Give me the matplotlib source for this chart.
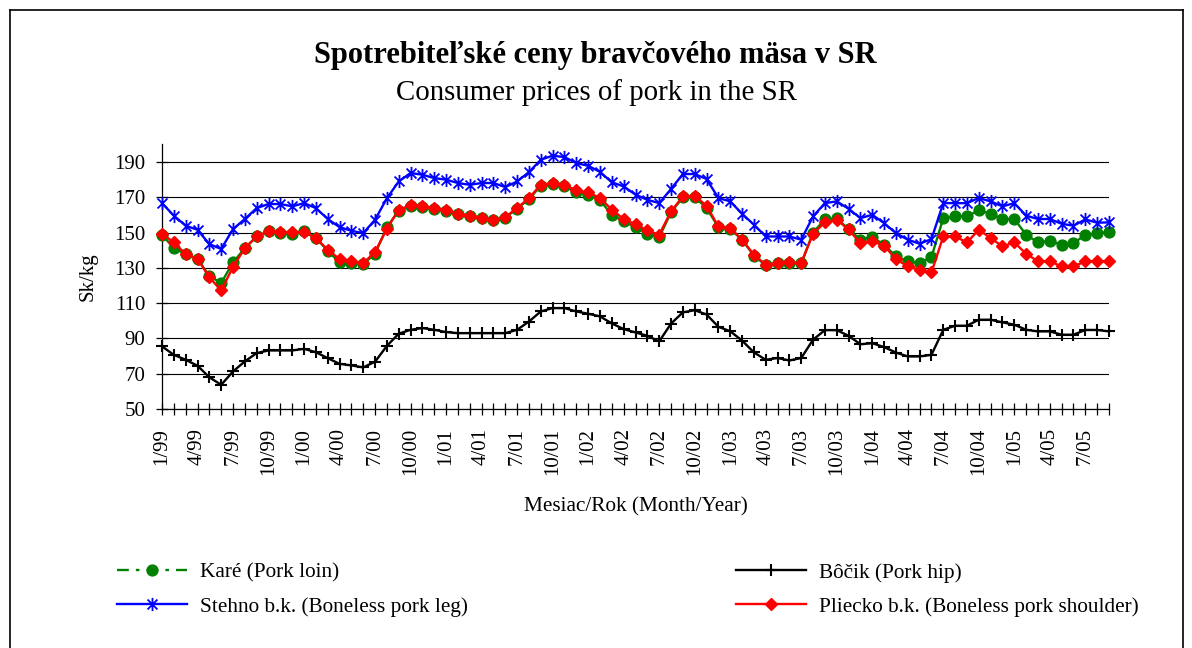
import matplotlib
matplotlib.use("Agg")
import matplotlib.pyplot as plt
from matplotlib.lines import Line2D
from matplotlib.path import Path

# ---------------- data ----------------
years = ["99", "00", "01", "02", "03", "04", "05"]
categories = [f"{m}/{y}" for y in years for m in range(1, 13)][:81]   # 1/99 .. 9/05

kare = [148.8, 141.2, 137.8, 135.0, 125.5, 121.4, 133.1, 141.2, 147.8, 150.7,
        149.7, 149.2, 150.7, 146.9, 139.7, 133.1, 132.7, 132.2, 138.0, 153.0,
        162.5, 165.0, 164.5, 163.5, 162.5, 160.5, 159.2, 158.0, 157.0, 158.5,
        163.5, 169.0, 176.5, 177.5, 176.5, 172.8, 171.5, 168.3, 160.1, 156.4,
        153.1, 149.4, 147.3, 161.5, 170.0, 170.0, 164.0, 153.0, 152.0, 146.0,
        137.0, 131.5, 132.5, 132.5, 132.5, 150.0, 157.5, 158.0, 152.0, 146.0,
        147.5, 143.1, 136.5, 133.7, 132.7, 136.1, 158.2, 159.2, 159.2, 162.6,
        160.7, 157.7, 157.7, 148.8, 144.4, 145.4, 143.1, 144.1, 148.6, 149.5,
        150.5]

bocik = [85.5, 80.7, 77.9, 74.5, 68.0, 63.7, 71.3, 77.0, 81.7, 83.2,
         83.2, 83.2, 84.1, 82.2, 78.8, 75.6, 74.7, 73.6, 76.8, 85.8,
         92.7, 94.9, 95.9, 94.9, 93.6, 93.0, 93.0, 93.0, 93.0, 93.0,
         94.9, 99.6, 105.3, 107.2, 107.2, 105.3, 104.0, 102.5, 98.5, 95.3,
         93.4, 91.5, 88.3, 98.4, 104.8, 106.0, 103.6, 96.6, 94.1, 88.8,
         82.1, 77.9, 78.9, 77.5, 78.9, 89.3, 94.7, 94.7, 91.5, 86.7,
         87.3, 85.1, 82.0, 79.8, 79.8, 80.7, 94.9, 97.2, 97.2, 100.6,
         100.6, 99.1, 97.8, 94.9, 94.0, 94.0, 92.1, 92.1, 94.8, 94.8,
         94.0]

stehno = [166.7, 159.6, 153.9, 151.6, 143.5, 140.7, 152.0, 157.7, 163.9, 166.2,
          166.2, 164.9, 166.7, 163.9, 157.7, 153.1, 151.0, 149.7, 157.3, 169.5,
          179.0, 183.8, 182.8, 180.9, 180.0, 178.1, 177.1, 178.1, 178.1, 175.8,
          179.0, 184.3, 191.3, 193.6, 192.8, 189.4, 187.9, 184.4, 178.5, 176.2,
          171.5, 168.6, 166.7, 174.7, 183.2, 183.2, 180.4, 169.6, 167.7, 160.7,
          154.5, 147.8, 147.8, 147.8, 146.0, 159.2, 166.7, 167.7, 163.5, 158.2,
          160.1, 155.4, 149.7, 146.0, 143.7, 146.3, 166.7, 166.7, 166.7, 169.6,
          167.7, 164.9, 166.7, 159.6, 157.7, 157.7, 155.0, 153.9, 157.5, 155.6,
          155.8]

pliecko = [149.4, 144.4, 137.8, 135.2, 124.6, 117.2, 130.5, 141.2, 147.8, 150.7,
           150.3, 150.3, 150.3, 146.9, 140.3, 135.0, 133.7, 132.7, 139.0, 152.3,
           163.0, 165.4, 165.2, 163.9, 163.0, 160.7, 159.6, 158.2, 157.3, 158.8,
           163.9, 169.6, 177.1, 178.1, 177.1, 173.9, 172.8, 169.6, 163.0, 157.7,
           154.8, 151.2, 148.8, 162.0, 170.5, 170.9, 165.2, 153.5, 152.6, 146.0,
           137.4, 131.8, 132.7, 133.1, 132.7, 149.4, 155.8, 157.3, 151.8, 143.9,
           145.0, 142.6, 135.0, 130.8, 128.9, 127.4, 147.8, 147.8, 144.4, 151.6,
           146.9, 142.2, 144.4, 138.0, 133.7, 133.7, 130.8, 130.8, 133.7, 133.7,
           133.7]

labels = ["Karé (Pork loin)", "Bôčik (Pork hip)",
          "Stehno b.k. (Boneless pork leg)", "Pliecko b.k. (Boneless pork shoulder)"]
yticks = [50, 70, 90, 110, 130, 150, 170, 190]

title = "Spotrebiteľské ceny bravčového mäsa v SR"
subtitle = "Consumer prices of pork in the SR"

# ---------------- figure ----------------
W, H = 1192, 648
plt.rcParams['font.family'] = ['Liberation Serif', 'DejaVu Serif']
fig = plt.figure(figsize=(W / 100, H / 100), dpi=100)
fig.patch.set_facecolor('white')

x0, x1, ytop, ybot = 162, 1109, 144.4, 409
ax = fig.add_axes([x0 / W, 1 - ybot / H, (x1 - x0) / W, (ybot - ytop) / H])

x = list(range(len(categories)))

star = Path([(0, -1), (0, 1), (-0.75, -0.75), (0.75, 0.75), (-0.75, 0.75), (0.75, -0.75)],
            [Path.MOVETO, Path.LINETO, Path.MOVETO, Path.LINETO, Path.MOVETO, Path.LINETO])

GREEN, BLUE, RED = '#008000', '#0000FF', '#FF0000'
LW = 1.7
kw_k = dict(color=GREEN, marker='o', ms=7.8, mfc=GREEN, mec=GREEN)
kw_b = dict(color='black', marker='+', ms=8.8, mew=1.5)
kw_s = dict(color=BLUE, marker=star, ms=9.5, mew=1.3, mfc='none', mec=BLUE)
kw_p = dict(color=RED, marker='D', ms=6.0, mfc=RED, mec=RED)

ax.plot(x, kare, lw=LW, zorder=3, clip_on=False, **kw_k)
ax.plot(x, bocik, lw=LW, zorder=4, clip_on=False, **kw_b)
ax.plot(x, stehno, lw=LW, zorder=5, clip_on=False, **kw_s)
ax.plot(x, pliecko, lw=LW, zorder=6, clip_on=False, **kw_p)

ax.set_xlim(0, len(categories) - 1)
ax.set_ylim(50, 200)
ax.set_yticks(yticks)
ax.set_yticklabels([str(v) for v in yticks])
ax.set_xticks(x)
ax.set_xticklabels([c if i % 3 == 0 else "" for i, c in enumerate(categories)],
                   rotation=90)

for s in ['top', 'right']:
    ax.spines[s].set_visible(False)
for s in ['left', 'bottom']:
    ax.spines[s].set_color('black')
    ax.spines[s].set_linewidth(0.9)

ax.grid(axis='y', color='black', lw=0.8)
ax.set_axisbelow(True)
ax.tick_params(axis='both', direction='inout', length=8, width=0.9, colors='black',
               labelsize=15)
ax.tick_params(axis='x', pad=9.5)
ax.tick_params(axis='y', pad=8)

ax.set_ylabel("Sk/kg", fontsize=15)
ax.yaxis.set_label_coords((88 - x0) / (x1 - x0), 0.5)
ax.yaxis.label.set_va('center')
ax.set_xlabel("Mesiac/Rok (Month/Year)", fontsize=15.3)
ax.xaxis.set_label_coords(0.5, (ybot - 507) / (ybot - ytop))
ax.xaxis.label.set_va('center')

fig.text(595 / W, 1 - 56 / H, title, ha='center', va='center', fontsize=22,
         fontweight='bold')
fig.text(596 / W, 1 - 93 / H, subtitle, ha='center', va='center', fontsize=20.8)

# legend
kare_proxy = Line2D([], [], lw=LW, ls=(0, (5, 3, 1.5, 3)), **kw_k)
bocik_proxy = Line2D([], [], lw=LW, **kw_b)
stehno_proxy = Line2D([], [], lw=LW, **kw_s)
pliecko_proxy = Line2D([], [], lw=LW, **kw_p)
fig.legend([kare_proxy, stehno_proxy, bocik_proxy, pliecko_proxy],
           [labels[0], labels[2], labels[1], labels[3]],
           ncol=2, loc='upper left', bbox_to_anchor=(117 / W, 1 - 563 / H),
           bbox_transform=fig.transFigure, frameon=False, fontsize=15.3,
           borderpad=0, borderaxespad=0, handlelength=3.3, handletextpad=0.62,
           columnspacing=12.6, labelspacing=0.65, numpoints=1)

# outer chart border
for xs, ys in [([10, 10], [H, 10]), ([10, 1183], [10, 10]), ([1183, 1183], [10, H])]:
    fig.add_artist(Line2D([v / W for v in xs], [1 - v / H for v in ys], color='black',
                          lw=1.2, transform=fig.transFigure))

fig.savefig("out.png", dpi=100, facecolor='white')
